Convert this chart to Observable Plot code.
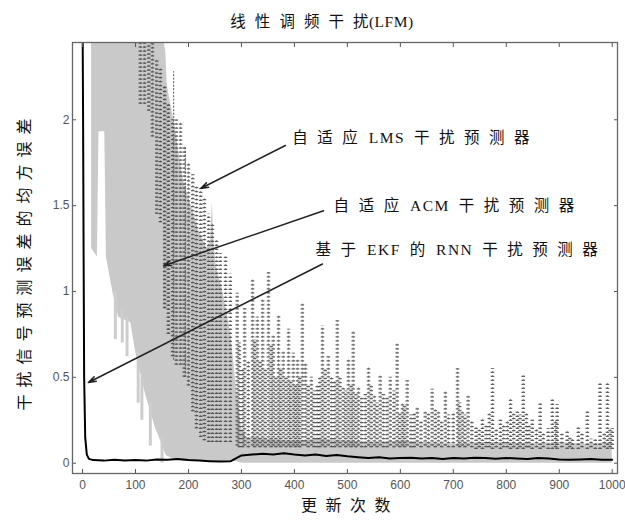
<!DOCTYPE html>
<html>
<head>
<meta charset="utf-8">
<script src="https://cdn.jsdelivr.net/npm/d3@7"></script>
<script src="https://cdn.jsdelivr.net/npm/@observablehq/plot@0.6"></script>
<style>
  html, body { margin: 0; padding: 0; background: #fff; }
</style>
</head>
<body>
<div id="chart"></div>
<script>
// ---------- data ----------
const titleText = "线性调频干扰(LFM)";
const xLabel = "更新次数";
const yLabel = "干扰信号预测误差的均方误差";
const xTicks = [0, 100, 200, 300, 400, 500, 600, 700, 800, 900, 1000];
const yTicks = [0, 0.5, 1, 1.5, 2];

// ACM predictor (gray band): envelope of the oscillating curve
const acmX    = [17, 28, 31, 42, 45, 57, 68, 91, 100, 119, 138, 145, 157, 160, 175, 190, 205, 220, 235, 242, 245, 248, 252, 265, 280, 290, 300, 310, 350, 400, 450, 500, 550, 600, 650, 700, 750, 800, 850, 900, 950, 1000];
const acmLow  = [1.25, 1.2, 1.93, 1.93, 1.2, 1.0, 0.85, 0.82, 0.65, 0.4, 0.2, 0.15, 0.05, 0.04, 0.02, 0.01, 0.01, 0.01, 0.01, 0.01, 0.01, 0.01, 0.01, 0.01, 0.01, 0.01, 0, 0, 0, 0, 0, 0, 0, 0, 0, 0, 0, 0, 0, 0, 0, 0];
const acmHigh = [2.6, 2.6, 2.6, 2.6, 2.6, 2.6, 2.6, 2.6, 2.6, 2.6, 2.6, 2.6, 2.4, 2.2, 1.95, 1.65, 1.5, 1.35, 1.25, 1.3, 1.52, 1.3, 1.15, 1.0, 0.75, 0.45, 0.2, 0.15, 0.14, 0.13, 0.14, 0.13, 0.12, 0.13, 0.12, 0.11, 0.12, 0.12, 0.11, 0.12, 0.11, 0.12];
// ragged gray streaks below the band's lower edge
const acmStreakX    = [62, 75, 84, 105, 112, 128, 150];
const acmStreakLow  = [0.72, 0.7, 0.62, 0.35, 0.25, 0.1, 0.0];
const acmStreakHigh = [1.0, 0.9, 0.85, 0.65, 0.5, 0.35, 0.15];

// LMS predictor (dotted spikes): main peaks
const lmsX    = [109, 117, 125, 132, 140, 147, 155, 162, 170, 177, 185, 192, 200, 208, 215, 223, 230, 238, 245, 253, 260, 270, 279,
                 292, 306, 321, 330, 340, 351, 360, 370, 379, 389, 398, 406, 415, 421, 432, 453, 464, 481, 492, 502, 511, 521, 540, 551, 562, 581, 594, 604, 613, 632, 647, 660, 672, 685, 708, 717, 728, 743, 755, 774, 789, 808, 821, 832, 849, 864, 879, 887, 896, 915, 925, 936, 953, 968, 977, 991, 1000];
const lmsLow  = [2.09, 2.09, 2.05, 1.9, 1.45, 1.4, 0.9, 0.75, 0.62, 0.57, 0.57, 0.5, 0.45, 0.3, 0.2, 0.15, 0.13, 0.12, 0.12, 0.12, 0.12, 0.12, 0.12,
                 0.1, 0.1, 0.1, 0.1, 0.1, 0.1, 0.1, 0.1, 0.1, 0.1, 0.1, 0.1, 0.1, 0.1, 0.1, 0.1, 0.1, 0.1, 0.1, 0.1, 0.1, 0.1, 0.1, 0.1, 0.1, 0.1, 0.1, 0.1, 0.1, 0.1, 0.1, 0.1, 0.1, 0.1, 0.1, 0.1, 0.1, 0.08, 0.08, 0.08, 0.08, 0.08, 0.08, 0.08, 0.08, 0.08, 0.08, 0.08, 0.08, 0.08, 0.08, 0.08, 0.08, 0.08, 0.08, 0.08, 0.08];
const lmsHigh = [2.6, 2.6, 2.6, 2.55, 2.35, 2.3, 2.2, 2.1, 2.0, 2.0, 1.98, 1.85, 1.75, 1.68, 1.62, 1.6, 1.55, 1.45, 1.4, 1.3, 1.22, 1.2, 1.1,
                 0.99, 0.9, 1.07, 0.85, 0.96, 1.11, 0.75, 0.86, 0.65, 0.78, 0.64, 0.6, 0.93, 0.58, 0.5, 0.8, 0.62, 0.83, 0.45, 0.61, 0.77, 0.45, 0.56, 0.4, 0.52, 0.5, 0.7, 0.35, 0.48, 0.33, 0.3, 0.43, 0.3, 0.42, 0.55, 0.3, 0.39, 0.22, 0.26, 0.55, 0.25, 0.38, 0.3, 0.51, 0.25, 0.35, 0.2, 0.37, 0.34, 0.19, 0.15, 0.21, 0.3, 0.15, 0.47, 0.47, 0.2];
// LMS lower ladder columns between the main peaks
const lmsFillX    = [296, 302, 313, 325, 335, 345, 356, 365, 374, 384, 393, 402, 410, 426, 437, 443, 448, 458, 470, 476, 486, 497, 507, 516, 527, 534, 545, 556, 568, 575, 588, 599, 608, 620, 626, 639, 653, 666, 678, 691, 700, 712, 722, 735, 749, 762, 768, 781, 795, 802, 814, 826, 838, 843, 857, 870, 893, 905, 920, 943, 960, 985, 996];
const lmsFillHigh = [0.7, 0.55, 0.6, 0.72, 0.6, 0.55, 0.68, 0.5, 0.55, 0.5, 0.48, 0.45, 0.5, 0.45, 0.42, 0.45, 0.5, 0.55, 0.5, 0.48, 0.5, 0.42, 0.45, 0.4, 0.38, 0.4, 0.45, 0.35, 0.4, 0.38, 0.42, 0.3, 0.33, 0.28, 0.3, 0.25, 0.3, 0.32, 0.25, 0.28, 0.3, 0.35, 0.28, 0.25, 0.2, 0.22, 0.3, 0.2, 0.22, 0.25, 0.3, 0.28, 0.3, 0.22, 0.2, 0.18, 0.25, 0.17, 0.15, 0.18, 0.14, 0.18, 0.2];
const lmsFillLow  = 0.09;
const lmsThinX    = [172, 194];
const lmsThinLow  = [0.6, 0.5];
const lmsThinHigh = [2.28, 1.84];

// EKF-based RNN predictor (solid black)
const ekfX = [0, 1, 2, 3, 5, 8, 12,
              20, 40, 60, 80, 100, 120, 140, 160, 180, 200, 220, 240, 260, 280,
              300, 320, 340, 360, 380, 400, 420, 440, 460, 480, 500,
              520, 540, 560, 580, 600, 620, 640, 660, 680, 700, 720, 740, 760, 780, 800, 820, 840, 860, 880, 900, 920, 940, 960, 980, 1000];
const ekfY = [2.6, 2.0, 1.2, 0.5, 0.15, 0.05, 0.025,
              0.018, 0.015, 0.02, 0.016, 0.019, 0.015, 0.022, 0.02, 0.025, 0.018, 0.015, 0.012, 0.01, 0.012,
              0.045, 0.05, 0.055, 0.05, 0.058, 0.05, 0.045, 0.05, 0.042, 0.048, 0.04,
              0.035, 0.03, 0.035, 0.028, 0.03, 0.032, 0.028, 0.03, 0.025, 0.03, 0.028, 0.032, 0.03, 0.026, 0.03, 0.028, 0.025, 0.03, 0.028, 0.022, 0.02, 0.022, 0.025, 0.02, 0.02];

// annotations (text, text anchor point, arrow start, arrow tip)
const annText = ["自适应 LMS 干扰预测器", "自适应 ACM 干扰预测器", "基于 EKF 的 RNN 干扰预测器"];
const annTextX = [396, 474, 440];
const annTextY = [1.895, 1.50, 1.24];
const arrX1 = [383, 455, 453];
const arrY1 = [1.85, 1.47, 1.16];
const arrX2 = [223, 153, 11];
const arrY2 = [1.60, 1.15, 0.47];

// ---------- tables ----------
const acm = acmX.map((x, i) => ({x, lo: acmLow[i], hi: acmHigh[i]}));
const acmStreaks = acmStreakX.map((x, i) => ({x, lo: acmStreakLow[i], hi: acmStreakHigh[i]}));
const lms = lmsX.map((x, i) => ({x, lo: lmsLow[i], hi: lmsHigh[i]}))
  .concat(lmsFillX.map((x, i) => ({x, lo: lmsFillLow, hi: lmsFillHigh[i]})));
const lmsThin = lmsThinX.map((x, i) => ({x, lo: lmsThinLow[i], hi: lmsThinHigh[i]}));
const ekf = ekfX.map((x, i) => ({x, y: ekfY[i]}));
const ann = annText.map((t, i) => ({t, x: annTextX[i], y: annTextY[i]}));
const arrows = arrX1.map((x1, i) => ({x1, y1: arrY1[i], x2: arrX2[i], y2: arrY2[i]}));

const mixFont = "'Liberation Serif', 'Noto Sans CJK SC', serif";
const cjkFont = "'Noto Sans CJK SC', sans-serif";
const tickFont = "'Liberation Sans', 'DejaVu Sans', sans-serif";
const plain = d => String(d);

const chart = Plot.plot({
  width: 625,
  height: 522,
  marginTop: 42,
  marginLeft: 72,
  marginRight: 8,
  marginBottom: 49,
  style: {background: "#fff", fontFamily: tickFont},
  x: {domain: [-19, 1010]},
  y: {domain: [-0.06, 2.45]},
  marks: [
    Plot.areaY(acm, {x: "x", y1: "lo", y2: "hi", fill: "#c9c9c9", curve: "linear", clip: true}),
    Plot.ruleX(acmStreaks, {x: "x", y1: "lo", y2: "hi", stroke: "#cdcdcd", strokeWidth: 3, clip: true}),
    Plot.ruleX(lms, {x: "x", y1: "lo", y2: "hi", stroke: "#333", strokeWidth: 3.5, strokeDasharray: "1.3,2.7", strokeOpacity: 0.75, clip: true}),
    Plot.ruleX(lms, {x: "x", y1: "lo", y2: "hi", stroke: "#555", strokeWidth: 0.8, strokeDasharray: "2,2", strokeOpacity: 0.8, clip: true}),
    Plot.ruleX(lmsThin, {x: "x", y1: "lo", y2: "hi", stroke: "#555", strokeWidth: 1, strokeDasharray: "2,1.5", clip: true}),
    Plot.line(ekf, {x: "x", y: "y", stroke: "#000", strokeWidth: 2, clip: true}),
    Plot.arrow(arrows, {x1: "x1", y1: "y1", x2: "x2", y2: "y2", stroke: "#222", strokeWidth: 1.5, headLength: 8, headAngle: 35}),
    Plot.text(ann, {x: "x", y: "y", text: "t", textAnchor: "start", fontSize: 15.5, fontFamily: mixFont, fill: "#111"}),
    // tick labels
    Plot.axisX({ticks: xTicks, tickFormat: plain, anchor: "bottom", tickSize: 0, tickPadding: 7, fontSize: 12, fill: "#555", label: null}),
    Plot.axisY({ticks: yTicks, tickFormat: plain, anchor: "left", tickSize: 0, tickPadding: 3, fontSize: 12, fill: "#555", label: null}),
    // inward ticks on all four sides
    Plot.axisX({ticks: xTicks, anchor: "bottom", tickSize: 4, dy: -4, fill: "none", stroke: "#555", label: null}),
    Plot.axisX({ticks: xTicks, anchor: "top", tickSize: 4, dy: 4, fill: "none", stroke: "#555", label: null}),
    Plot.axisY({ticks: yTicks, anchor: "left", tickSize: 4, dx: 4, fill: "none", stroke: "#555", label: null}),
    Plot.axisY({ticks: yTicks, anchor: "right", tickSize: 4, dx: -4, fill: "none", stroke: "#555", label: null}),
    Plot.frame({stroke: "#666", strokeWidth: 1.3}),
    // title and axis labels
    Plot.text([titleText], {frameAnchor: "top", textAnchor: "middle", lineAnchor: "middle", dy: -20, dx: -23, fontSize: 15.5, fontFamily: mixFont, fill: "#111"}),
    Plot.text([xLabel], {frameAnchor: "bottom", textAnchor: "middle", lineAnchor: "middle", dy: 32, dx: 5, fontSize: 16, fontFamily: cjkFont, fill: "#111"}),
    Plot.text([yLabel], {frameAnchor: "left", textAnchor: "middle", lineAnchor: "middle", dx: -48, dy: 3, rotate: -90, fontSize: 16, fontFamily: cjkFont, fill: "#111"})
  ]
});

// wide-set Chinese characters: letter spacing on CJK characters, wider word spaces
const CJK = /[\u3000-\u9fff\uff00-\uffef]/;
function spaceCJK(el, cjkSpacing, latinSpacing, spaceSpacing) {
  const chars = Array.from(el.textContent);
  el.textContent = "";
  el.setAttribute("style", (el.getAttribute("style") || "") + ";white-space:pre");
  chars.forEach((c, i) => {
    const ts = document.createElementNS("http://www.w3.org/2000/svg", "tspan");
    ts.textContent = c === " " ? "\u00a0" : c;
    let sp = latinSpacing;
    if (c === " ") sp = spaceSpacing;
    else if (CJK.test(c)) {
      const next = chars[i + 1];
      sp = (next === undefined || CJK.test(next)) ? cjkSpacing : (next === " " ? 2 : 0.5);
    }
    ts.setAttribute("letter-spacing", sp);
    el.appendChild(ts);
  });
}
chart.querySelectorAll("text").forEach(t => {
  const s = t.textContent;
  if (annText.includes(s)) spaceCJK(t, 9.5, 1.5, 5);
  else if (s === titleText) spaceCJK(t, 9, 0.5, 0);
  else if (s === xLabel) spaceCJK(t, 8.5, 0, 0);
  else if (s === yLabel) spaceCJK(t, 7, 0, 0);
});

document.getElementById("chart").appendChild(chart);
</script>
</body>
</html>
